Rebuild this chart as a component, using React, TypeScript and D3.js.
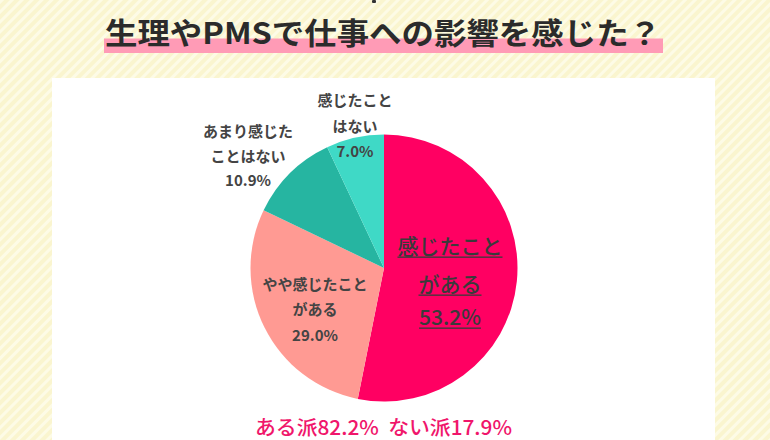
import React, { useEffect, useRef } from "react";
import * as d3 from "d3";

const title = "生理やPMSで仕事への影響を感じた？";
const categories = ["感じたことがある", "やや感じたことがある", "あまり感じたことはない", "感じたことはない"];
const values = [53.2, 29.0, 10.9, 7.0];
const colors = ["#ff0062", "#ff9a93", "#26b5a1", "#3fd9c6"];
const labelLines = [
  ["感じたこと", "がある", "53.2%"],
  ["やや感じたこと", "がある", "29.0%"],
  ["あまり感じた", "ことはない", "10.9%"],
  ["感じたこと", "はない", "7.0%"],
];
const summary = "ある派82.2%  ない派17.9%";

// layout (not data)
const W = 770, H = 440;
const CX = 384, CY = 268, R = 133.5;
const labelPos = [
  { x: 450, ys: [254, 292, 325], size: 21, weight: 500, underline: true },
  { x: 315, ys: [290, 315, 341], size: 15, weight: 700, underline: false },
  { x: 248, ys: [137, 162, 186], size: 15, weight: 700, underline: false },
  { x: 355, ys: [106, 132, 157], size: 15, weight: 700, underline: false },
];
const FONT = "'Noto Sans CJK JP', 'Noto Sans', sans-serif";

export default function App() {
  const ref = useRef<SVGSVGElement>(null);
  useEffect(() => {
    const svg = d3.select(ref.current);
    svg.selectAll("*").remove();
    const defs = svg.append("defs");
    const pat = defs.append("pattern").attr("id", "stripes").attr("width", 7).attr("height", 7)
      .attr("patternUnits", "userSpaceOnUse").attr("patternTransform", "rotate(45)");
    pat.append("rect").attr("width", 7).attr("height", 7).attr("fill", "#faf5cf");
    pat.append("rect").attr("width", 3).attr("height", 7).attr("fill", "#fdfbe6");

    svg.append("rect").attr("width", W).attr("height", H).attr("fill", "url(#stripes)");
    svg.append("rect").attr("x", 372).attr("y", 0).attr("width", 4).attr("height", 3).attr("rx", 1).attr("fill", "#333");

    // title
    svg.append("rect").attr("x", 104).attr("y", 38.5).attr("width", 559).attr("height", 14.5).attr("fill", "#ff9bb6");
    svg.append("text").attr("x", 105).attr("y", 44).attr("font-family", FONT).attr("font-size", 30)
      .attr("font-weight", 700).attr("fill", "#2b2b2b").attr("textLength", 556).attr("lengthAdjust", "spacingAndGlyphs")
      .text(title);

    // white panel
    svg.append("rect").attr("x", 52).attr("y", 78).attr("width", 663).attr("height", H - 78).attr("fill", "#ffffff");

    const pie = d3.pie<number>().sort(null).value((d) => d).startAngle(0).endAngle(2 * Math.PI);
    const arc = d3.arc<d3.PieArcDatum<number>>().innerRadius(0).outerRadius(R);
    const g = svg.append("g").attr("transform", `translate(${CX},${CY})`);
    g.selectAll("path").data(pie(values)).join("path")
      .attr("d", arc as any).attr("fill", (_d, i) => colors[i])
      .append("title").text((_d, i) => categories[i]);

    labelLines.forEach((lines, i) => {
      const p = labelPos[i];
      lines.forEach((line, j) => {
        const t = svg.append("text").attr("x", p.x).attr("y", p.ys[j]).attr("text-anchor", "middle")
          .attr("font-family", FONT).attr("font-size", p.size).attr("font-weight", p.weight)
          .attr("fill", i === 0 ? "#3a3a3a" : "#444444").text(line);
        if (p.underline) {
          const w = (t.node() as SVGTextElement).getComputedTextLength();
          svg.append("rect").attr("x", p.x - w / 2).attr("y", p.ys[j] + 2.5).attr("width", w).attr("height", 1.3)
            .attr("fill", "#3a3a3a");
        }
      });
    });

    svg.append("text").attr("x", 255).attr("y", 435).attr("font-family", FONT).attr("font-size", 20)
      .attr("font-weight", 500).attr("fill", "#f0166b").attr("textLength", 257).attr("lengthAdjust", "spacingAndGlyphs")
      .attr("xml:space", "preserve").style("white-space", "pre").text(summary);
  }, []);
  return (
    <svg ref={ref} width={W} height={H} style={{ position: "absolute", left: 0, top: 0, display: "block" }} />
  );
}
